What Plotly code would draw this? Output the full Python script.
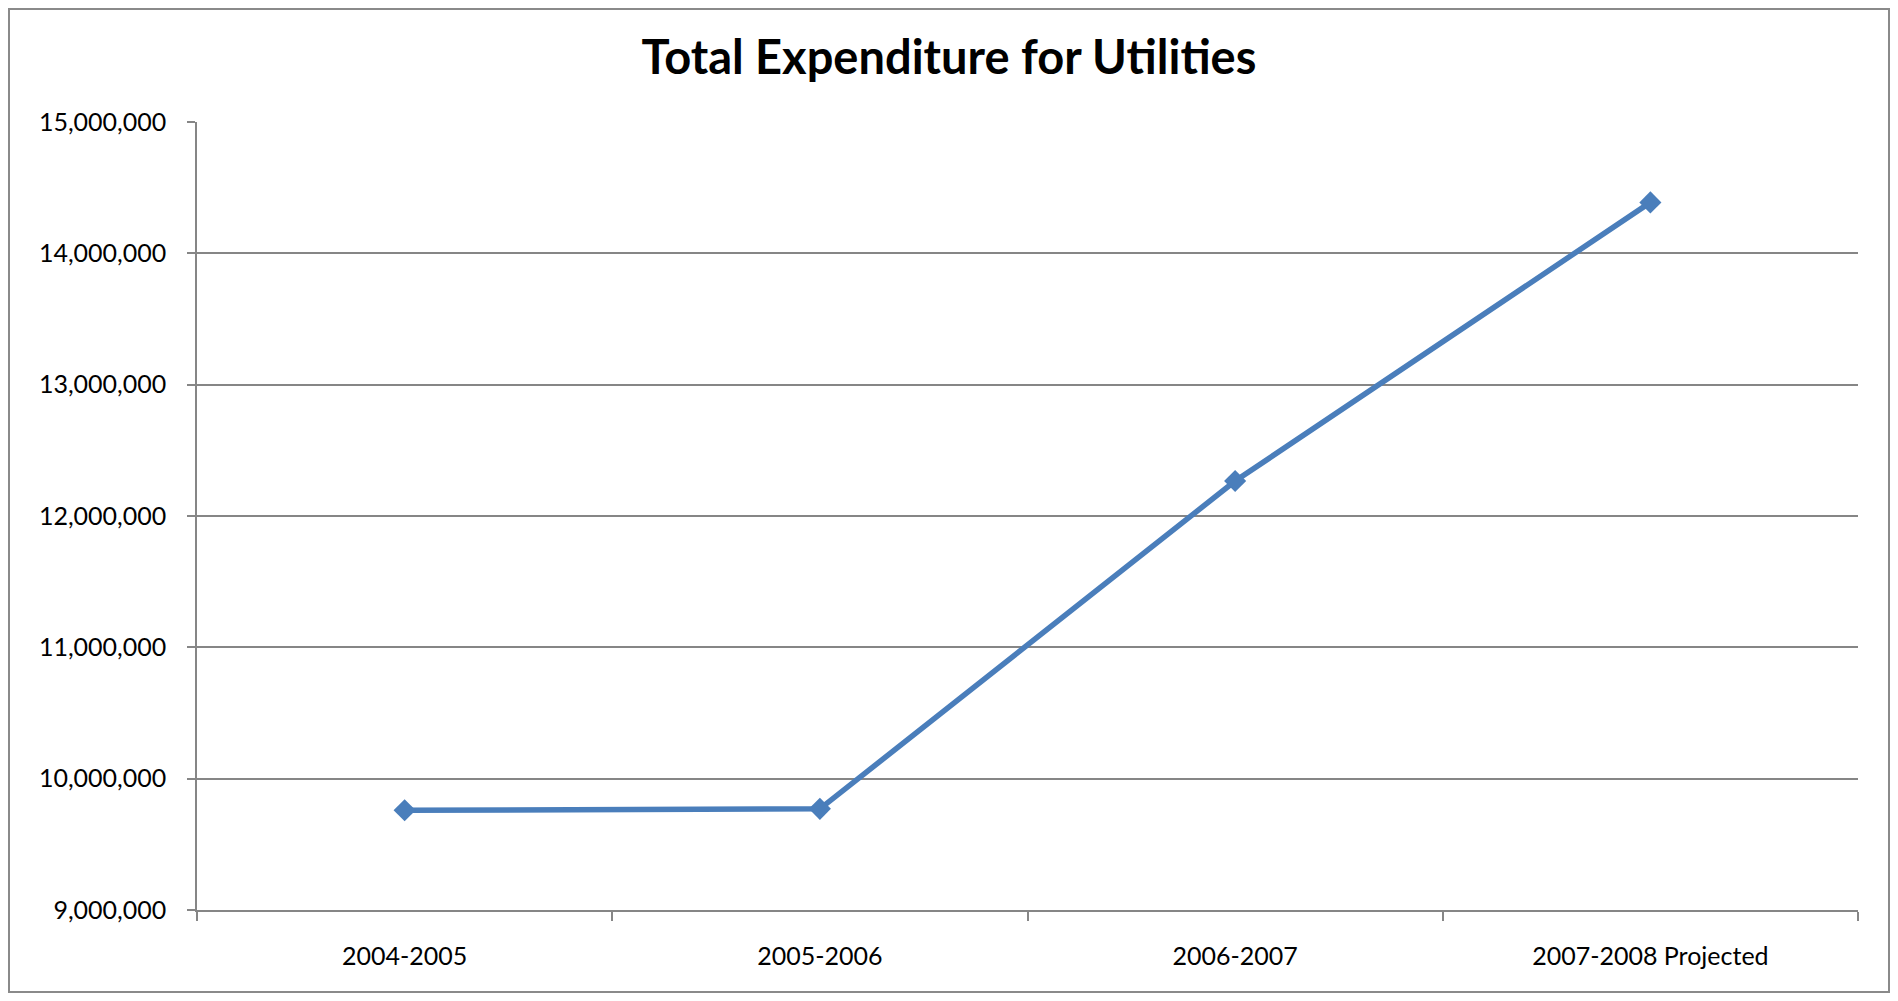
import plotly.graph_objects as go

categories = ["2004-2005", "2005-2006", "2006-2007", "2007-2008 Projected"]
expenditure = [9759000, 9770000, 12266000, 14388000]
y_tick_values = [9000000, 10000000, 11000000, 12000000, 13000000, 14000000, 15000000]
title_text = "Total Expenditure for Utilities"

# page body adds an 8px offset; figure sized to fit the 1898x1001 window
W, H = 1882, 985
ML, MR, MT, MB = 189, 32, 114, 83
pw, ph = W - ML - MR, H - MT - MB

def px_x(x):
    return (x - ML) / pw

def px_y(y):
    return (H - MB - y) / ph

grid_col = "#868686"
line_col = "#4A7EBB"

fig = go.Figure()
fig.add_trace(go.Scatter(
    x=categories, y=expenditure, mode="lines+markers",
    line=dict(color=line_col, width=5.5),
    marker=dict(symbol="diamond", size=17, color=line_col),
    showlegend=False, cliponaxis=False,
))

fig.update_layout(
    width=W, height=H,
    margin=dict(l=ML, r=MR, t=MT, b=MB, autoexpand=False),
    paper_bgcolor="white", plot_bgcolor="white",
    font=dict(family="Lato, 'Open Sans', sans-serif", color="black", size=25),
    title=dict(text="<b>" + title_text + "</b>", x=941 / W, xanchor="center",
               y=1 - 50 / H, yanchor="middle",
               font=dict(family="Lato, 'Open Sans', sans-serif", size=47, color="black")),
    shapes=[dict(type="rect", xref="paper", yref="paper",
                 x0=px_x(1), x1=px_x(W - 1), y0=px_y(H - 1), y1=px_y(1),
                 line=dict(color="#8a8a8a", width=2), fillcolor="rgba(0,0,0,0)", layer="below")],
)

fig.update_xaxes(
    type="category", range=[-0.5, 3.5], tickson="boundaries",
    showgrid=False, showline=True, linecolor=grid_col, linewidth=1.5,
    ticks="outside", ticklen=9, tickcolor=grid_col, tickwidth=1.5,
    ticklabelstandoff=23, tickfont=dict(size=25, color="black"),
)
fig.update_yaxes(
    range=[y_tick_values[0], y_tick_values[-1]], tickvals=y_tick_values,
    tickformat=",", showgrid=True, gridcolor=grid_col, gridwidth=1.5,
    showline=True, linecolor=grid_col, linewidth=1.5, zeroline=False,
    ticks="outside", ticklen=8, tickcolor=grid_col, tickwidth=1.5,
    ticklabelstandoff=16, tickfont=dict(size=25, color="black"),
)

fig.write_html("out.html")
